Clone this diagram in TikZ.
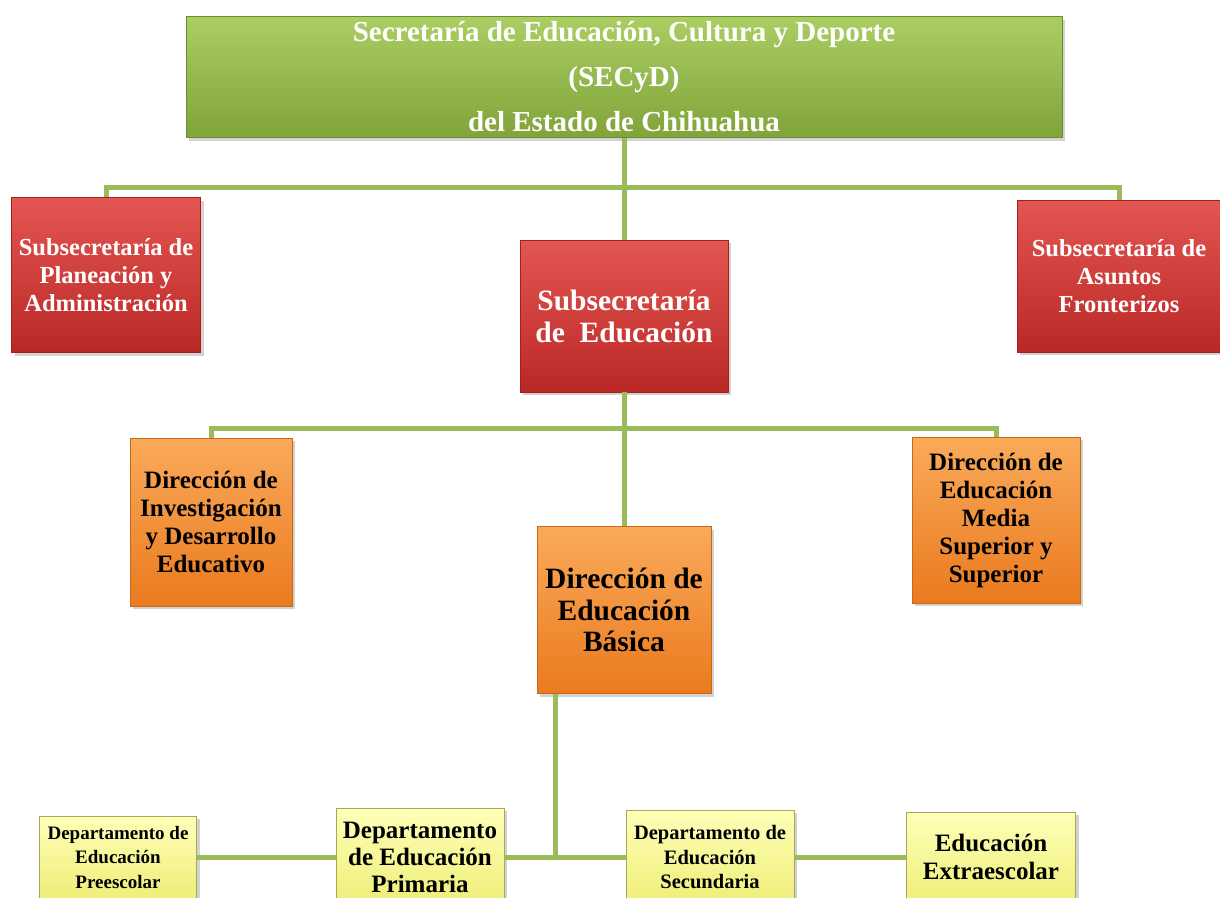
\documentclass[tikz,border=0pt]{standalone}
\usepackage{fontspec}
\setmainfont{Liberation Serif}
\usetikzlibrary{shadows}

\definecolor{linkgreen}{RGB}{155,187,89}
\definecolor{greentop}{RGB}{170,206,98}
\definecolor{greenbot}{RGB}{128,164,58}
\definecolor{redtop}{RGB}{228,86,82}
\definecolor{redbot}{RGB}{186,40,38}
\definecolor{orangetop}{RGB}{250,170,90}
\definecolor{orangebot}{RGB}{234,122,30}
\definecolor{yellowtop}{RGB}{255,255,185}
\definecolor{yellowbot}{RGB}{238,238,120}

\tikzset{
  link/.style={draw=linkgreen, line width=5pt},
  box/.style={inner sep=0pt, align=center, font=\bfseries,
    drop shadow={shadow xshift=3pt, shadow yshift=-3pt, opacity=0.35}},
  titlebox/.style={box, top color=greentop, bottom color=greenbot, draw=greenbot!85!black, text=white},
  subbox/.style={box, top color=redtop, bottom color=redbot, draw=redbot!85!black, text=white},
  dirbox/.style={box, top color=orangetop, bottom color=orangebot, draw=orangebot!85!black, text=black},
  depbox/.style={box, top color=yellowtop, bottom color=yellowbot, draw=yellowbot!70!black, text=black}
}

\begin{document}
\begin{tikzpicture}[x=1pt,y=-1pt]

\useasboundingbox (0,0) rectangle (1220,897);
\clip (0,0) rectangle (1220,897);
\fill[white] (0,0) rectangle (1220,897);

\node[titlebox, minimum width=876pt, minimum height=121pt, font=\bfseries\fontsize{29}{45}\selectfont] (secyd) at (624,77)
  {Secretaría de Educación, Cultura y Deporte\\(SECyD)\\del Estado de Chihuahua};

\node[subbox, minimum width=189pt, minimum height=155pt, font=\bfseries\fontsize{24.5}{28}\selectfont] (spa) at (106,275)
  {Subsecretaría de\\Planeación y\\Administración};
\node[subbox, minimum width=208pt, minimum height=152pt, font=\bfseries\fontsize{29.5}{32}\selectfont] (sed) at (624,316)
  {Subsecretaría\\de~ Educación};
\node[subbox, minimum width=204pt, minimum height=152pt, font=\bfseries\fontsize{24.5}{28}\selectfont] (saf) at (1119,276)
  {Subsecretaría de\\Asuntos\\Fronterizos};

\node[dirbox, minimum width=162pt, minimum height=168pt, font=\bfseries\fontsize{25}{28}\selectfont] (dide) at (211,522)
  {Dirección de\\Investigación\\y Desarrollo\\Educativo};
\node[dirbox, minimum width=174pt, minimum height=167pt, font=\bfseries\fontsize{29.5}{31.5}\selectfont] (dieb) at (624,610)
  {Dirección de\\Educación\\Básica};
\node[dirbox, minimum width=168pt, minimum height=166pt, font=\bfseries\fontsize{25}{28}\selectfont] (dems) at (996,520)
  {Dirección de\\Educación\\Media\\Superior y\\Superior};

\node[depbox, minimum width=157pt, minimum height=82pt, font=\bfseries\fontsize{19}{24.5}\selectfont] (dpre) at (118,857)
  {Departamento de\\Educación\\Preescolar};
\node[depbox, minimum width=168pt, minimum height=98pt, font=\bfseries\fontsize{25}{27}\selectfont] (dpri) at (420,857)
  {Departamento\\de Educación\\Primaria};
\node[depbox, minimum width=168pt, minimum height=94pt, font=\bfseries\fontsize{20.5}{24.5}\selectfont] (dsec) at (710,857)
  {Departamento de\\Educación\\Secundaria};
\node[depbox, minimum width=169pt, minimum height=90pt, font=\bfseries\fontsize{25}{28}\selectfont] (dext) at (991,857)
  {Educación\\Extraescolar};

\coordinate (bus1) at (624,187);
\coordinate (bus2) at (624,428);
\coordinate (bus3) at (555,857);

\draw[link] (secyd.south) -- (sed.north);
\draw[link] (spa.north) |- (bus1) -| (saf.north);
\draw[link] (sed.south) -- (dieb.north);
\draw[link] (dide.north) |- (bus2) -| (dems.north);
\draw[link] (bus3 |- dieb.south) -- (bus3);
\draw[link] (dpre.east) -- (dpri.west);
\draw[link] (dpri.east) -- (dsec.west);
\draw[link] (dsec.east) -- (dext.west);

\end{tikzpicture}
\end{document}
